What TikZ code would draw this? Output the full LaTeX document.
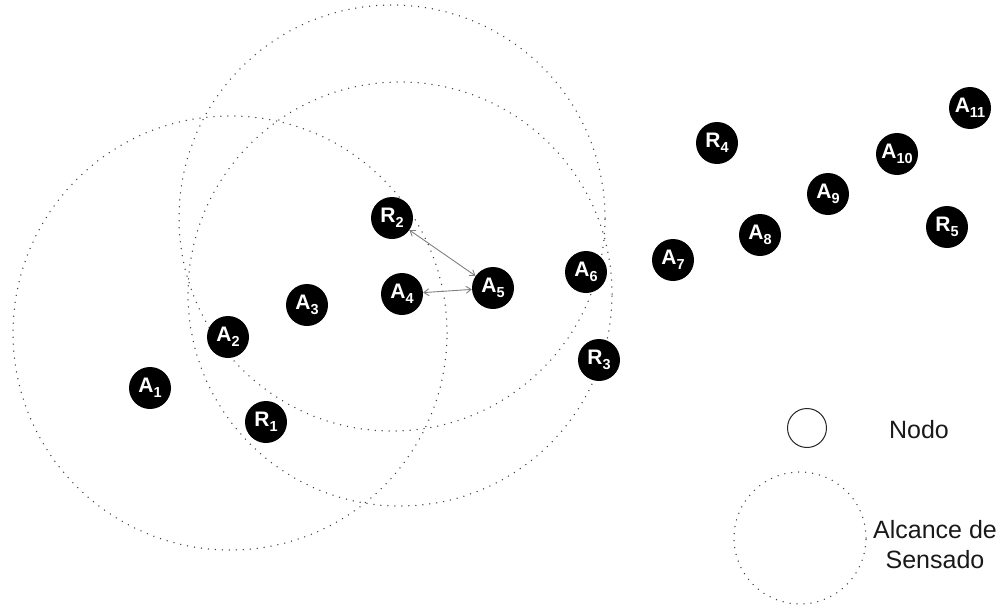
\documentclass[tikz,border=0pt]{standalone}
\usepackage{fontspec}
\setmainfont{Liberation Sans}
\usetikzlibrary{arrows.meta}
\newcommand\lsub[1]{\raisebox{-0.45ex}{\fontsize{14.5}{14.5}\selectfont #1}}
\tikzset{
  nd/.style={circle, fill=black, minimum size=42pt, inner sep=0pt, text=white,
             font=\fontsize{21}{21}\selectfont\bfseries},
  senserange/.style={draw=black!75, line width=1.5pt, dash pattern=on 0pt off 7pt, line cap=round},
  link/.style={draw=black!50, line width=0.9pt, {Straight Barb[length=5pt,width=7pt]}-{Straight Barb[length=5pt,width=7pt]}},
  legtext/.style={font=\fontsize{25}{30}\selectfont, text=black!90, align=center}
}
\begin{document}
\begin{tikzpicture}[x=1pt,y=-1pt]
\useasboundingbox (0,0) rectangle (1004,613);
% sensing ranges
\draw[senserange] (230,333) circle[radius=217pt];
\draw[senserange] (392,218) circle[radius=213pt];
\draw[senserange] (400,294) circle[radius=212pt];
% nodes
\node[nd] (A1) at (150,388) {A\lsub{1}};
\node[nd] (A2) at (228,337) {A\lsub{2}};
\node[nd] (R1) at (266,422) {R\lsub{1}};
\node[nd] (A3) at (307,305) {A\lsub{3}};
\node[nd] (R2) at (392,218) {R\lsub{2}};
\node[nd] (A4) at (402,294) {A\lsub{4}};
\node[nd] (A5) at (493,288) {A\lsub{5}};
\node[nd] (A6) at (586,272) {A\lsub{6}};
\node[nd] (R3) at (599,360) {R\lsub{3}};
\node[nd] (A7) at (673,260) {A\lsub{7}};
\node[nd] (A8) at (760,235) {A\lsub{8}};
\node[nd] (R4) at (717,143) {R\lsub{4}};
\node[nd] (A9) at (828,194) {A\lsub{9}};
\node[nd] (A10) at (897,154) {A\lsub{10}};
\node[nd] (A11) at (970,108) {A\lsub{11}};
\node[nd] (R5) at (947,227) {R\lsub{5}};
% links
\draw[link] (R2) -- (A5);
\draw[link] (A4) -- (A5);
% legend
\node[circle, draw=black!85, line width=1pt, minimum size=39pt, inner sep=0pt] (legnode) at (807,428) {};
\node[legtext] (legnodetxt) at (919,430) {Nodo};
\draw[senserange] (800,538) circle[radius=66pt];
\node[legtext] (legrangetxt) at (935,545) {Alcance de\\Sensado};
\end{tikzpicture}
\end{document}
